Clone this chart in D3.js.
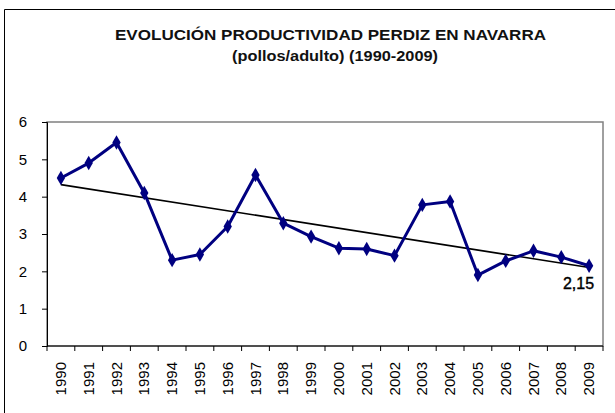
<!DOCTYPE html>
<html>
<head>
<meta charset="utf-8">
<script src="https://cdn.jsdelivr.net/npm/d3@7"></script>
<style>
body { margin: 0; background: #fff; }
text { font-family: "Liberation Sans", Arial, sans-serif; }
</style>
</head>
<body>
<div class="chart"></div>
<script>
// data
let years = ['1990','1991','1992','1993','1994','1995','1996','1997','1998','1999',
             '2000','2001','2002','2003','2004','2005','2006','2007','2008','2009'];
let productividad = [4.5, 4.9, 5.45, 4.1, 2.3, 2.45, 3.2, 4.58, 3.29, 2.93,
                     2.62, 2.6, 2.42, 3.78, 3.87, 1.9, 2.28, 2.55, 2.38, 2.15];
let yTicks = [0, 1, 2, 3, 4, 5, 6];
let lastLabel = '2,15';

let W = 615, H = 413;
let margin = { top: 122, right: 12, bottom: 67, left: 47 },
width = W - margin.left - margin.right,
height = H - margin.top - margin.bottom;

let root = d3.select(".chart").append("svg")
.attr("width", W)
.attr("height", H);

// outer frame (top + left visible)
root.append('line').attr('x1', 4.5).attr('y1', 9.5).attr('x2', W).attr('y2', 9.5)
    .attr('stroke', '#000').attr('stroke-width', 1);
root.append('line').attr('x1', 4.5).attr('y1', 9.5).attr('x2', 4.5).attr('y2', H)
    .attr('stroke', '#000').attr('stroke-width', 1);

root.append('text')
    .attr('x', 330.5).attr('y', 40)
    .attr('text-anchor', 'middle')
    .attr('font-size', 15.5).attr('font-weight', 'bold')
    .attr('textLength', 431).attr('lengthAdjust', 'spacingAndGlyphs')
    .attr('fill', '#111')
    .text('EVOLUCIÓN PRODUCTIVIDAD PERDIZ EN NAVARRA');
root.append('text')
    .attr('x', 335).attr('y', 61)
    .attr('text-anchor', 'middle')
    .attr('font-size', 15.5).attr('font-weight', 'bold')
    .attr('textLength', 206).attr('lengthAdjust', 'spacingAndGlyphs')
    .attr('fill', '#111')
    .text('(pollos/adulto) (1990-2009)');

let svg = root.append("g")
.attr("transform", "translate(" + margin.left + "," + margin.top + ")");

let x = d3.scaleBand().domain(years).range([0, width]);
let y = d3.scaleLinear().domain([0, 6]).range([height, 0]);

// plot area frame
svg.append('rect')
    .attr('x', 0).attr('y', 0)
    .attr('width', width).attr('height', height)
    .attr('fill', 'none')
    .attr('stroke', '#808080').attr('stroke-width', 1.5);

// y axis
let yAxis = svg.append('g')
    .call(d3.axisLeft(y).tickValues(yTicks).tickSize(5).tickPadding(15).tickFormat(d3.format('d')));
yAxis.select('.domain').attr('stroke', '#000');
yAxis.selectAll('.tick line').attr('stroke', '#000');
yAxis.selectAll('text').attr('font-size', 15).attr('fill', '#000')
    .style('font-family', '"Liberation Sans", Arial, sans-serif');

// x axis: ticks at category boundaries
let xAxis = svg.append('g')
    .attr('transform', 'translate(0,' + height + ')');
xAxis.append('line')
    .attr('x1', 0).attr('x2', width)
    .attr('stroke', '#000');
let bounds = d3.range(years.length + 1).map(i => i * x.step());
xAxis.selectAll('.xt')
    .data(bounds)
    .join('line')
    .attr('x1', d => d).attr('x2', d => d)
    .attr('y1', 0).attr('y2', 5)
    .attr('stroke', '#000');
xAxis.selectAll('.xl')
    .data(years)
    .join('text')
    .attr('transform', d => 'translate(' + (x(d) + x.bandwidth() / 2 + 5) + ',16) rotate(-90)')
    .attr('text-anchor', 'end')
    .attr('font-size', 15)
    .attr('fill', '#000')
    .text(d => d);

// linear trend
let xs = years.map((d, i) => i);
let mx = d3.mean(xs), my = d3.mean(productividad);
let slope = d3.sum(xs, (v, i) => (v - mx) * (productividad[i] - my)) / d3.sum(xs, v => (v - mx) * (v - mx));
let icpt = my - slope * mx;
let trend = [0, years.length - 1].map(i => ({ yr: years[i], v: icpt + slope * i }));

let cx = d => x(d) + x.bandwidth() / 2;

svg.append('path')
    .datum(trend)
    .attr('d', d3.line().x(d => cx(d.yr)).y(d => y(d.v)))
    .attr('fill', 'none')
    .attr('stroke', '#000')
    .attr('stroke-width', 1.6);

// series
let pts = years.map((d, i) => ({ yr: d, v: productividad[i] }));
svg.append('path')
    .datum(pts)
    .attr('d', d3.line().x(d => cx(d.yr)).y(d => y(d.v)))
    .attr('fill', 'none')
    .attr('stroke', '#000080')
    .attr('stroke-width', 3)
    .attr('stroke-linejoin', 'round');

svg.selectAll('.mk')
    .data(pts)
    .join('path')
    .attr('transform', d => 'translate(' + cx(d.yr) + ',' + y(d.v) + ')')
    .attr('d', d3.symbol().type(d3.symbolDiamond).size(60))
    .attr('fill', '#000080');

// last value label
svg.append('text')
    .attr('x', cx(years[years.length - 1]) + 5)
    .attr('y', y(productividad[productividad.length - 1]) + 23)
    .attr('text-anchor', 'end')
    .attr('font-size', 16)
    .attr('fill', '#000')
    .attr('stroke', '#000').attr('stroke-width', 0.4)
    .text(lastLabel);
</script>
</body>
</html>
